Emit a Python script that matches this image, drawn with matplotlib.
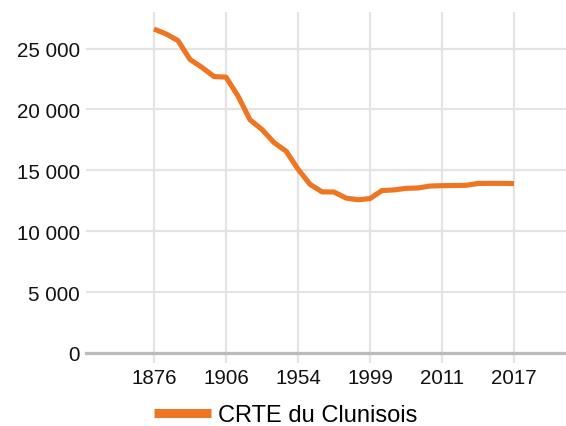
import matplotlib
matplotlib.use('Agg')
import matplotlib.pyplot as plt
from matplotlib.ticker import FuncFormatter

plt.rcParams['font.family'] = ['Liberation Sans', 'DejaVu Sans']

years = ['1876', '1881', '1886', '1891', '1896', '1901', '1906',
         '1911', '1921', '1926', '1931', '1936', '1954',
         '1962', '1968', '1975', '1982', '1990', '1999',
         '2006', '2007', '2008', '2009', '2010', '2011',
         '2012', '2013', '2014', '2015', '2016', '2017']
population = [26600, 26200, 25650, 24100, 23450, 22700, 22650,
              21100, 19150, 18350, 17280, 16580, 15100,
              13850, 13230, 13220, 12720, 12580, 12680,
              13340, 13390, 13520, 13550, 13710, 13740,
              13750, 13770, 13920, 13930, 13930, 13910]
shown_years = ['1876', '1906', '1954', '1999', '2011', '2017']
series_name = 'CRTE du Clunisois'

ORANGE = '#ee7623'
GRID = '#e4e4e4'

fig = plt.figure(figsize=(5.66, 4.27), dpi=100)
ax = fig.add_axes([86/566, 73/427, 480/566, 341/427])

idx = list(range(len(years)))
line, = ax.plot(idx, population, color=ORANGE, lw=3.7, solid_capstyle='butt',
                solid_joinstyle='round', zorder=4, label=series_name)

tick_pos = [years.index(y) for y in shown_years]
ax.set_xticks(tick_pos)
ax.set_xticklabels(shown_years)
ax.set_xlim(-68/12, 412/12)
ax.set_ylim(0, 28000)
ax.set_yticks(range(0, 25001, 5000))
ax.yaxis.set_major_formatter(FuncFormatter(lambda v, p: '{:,}'.format(int(v)).replace(',', ' ')))

ax.grid(True, color=GRID, lw=1.6, zorder=1)
ax.set_axisbelow(True)
for s in ['top', 'right', 'left']:
    ax.spines[s].set_visible(False)
ax.spines['bottom'].set_color('#bcbcbc')
ax.spines['bottom'].set_linewidth(2.3)
ax.spines['bottom'].set_zorder(3)

ax.tick_params(axis='x', length=7.5, width=1.6, color=GRID, pad=3.5, labelsize=14.8, labelcolor='#111111')
ax.tick_params(axis='y', length=0, pad=4.5, labelsize=14.8, labelcolor='#111111')

fig.legend(handles=[line], loc='center', bbox_to_anchor=(286/566, 1 - 416.5/427),
           frameon=False, fontsize=17, handlelength=2.4, handletextpad=0.3,
           borderaxespad=0, borderpad=0)
leg_line = fig.legends[0].get_lines()[0]
leg_line.set_linewidth(6.5)

fig.savefig('out.png', dpi=100)
